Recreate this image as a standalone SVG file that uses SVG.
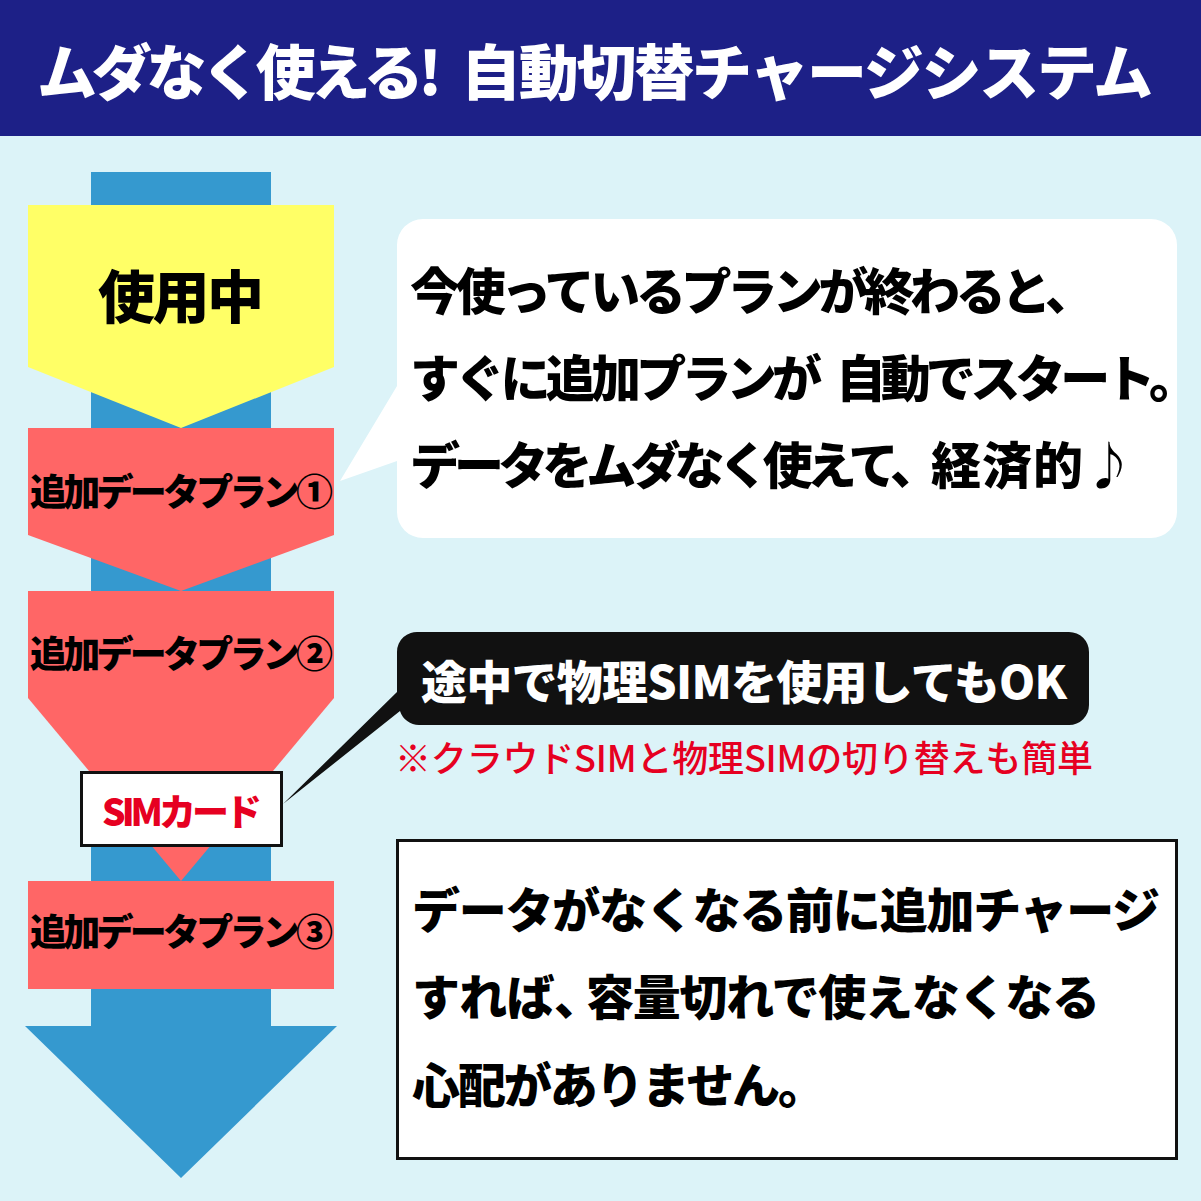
<svg xmlns="http://www.w3.org/2000/svg" width="1201" height="1201" viewBox="0 0 1201 1201">
<style>
text{font-family:"Noto Sans CJK JP","Noto Sans",sans-serif;font-weight:900}
.plan{font-size:37px;fill:#000}
.big{font-size:50px;fill:#000}
.b2{font-size:48px;fill:#000}
</style>
<rect width="1201" height="1201" fill="#dcf3f8"/>
<g id="header"><rect width="1201" height="136" fill="#1d2087"/>
<text x="37" y="95" font-size="60" fill="#fff" textLength="405">ムダなく使える!</text>
<text x="461" y="95" font-size="60" fill="#fff" textLength="692">自動切替チャージシステム</text></g>
<g id="flow-arrow"><path d="M91 172H271V1026H337L181 1178L25 1026H91Z" fill="#3599cf"/></g>
<g id="in-use"><path d="M28 205H334V367L181 428L28 367Z" fill="#ffff66"/>
<text x="98" y="318" font-size="57" textLength="166">使用中</text></g>
<g id="plan-1"><path d="M28 428H334V535L181 591L28 535Z" fill="#ff6666"/>
<text class="plan" x="30" y="506" textLength="303">追加データプラン①</text></g>
<g id="plan-2"><path d="M28 591H334V698L181 881L28 698Z" fill="#ff6666"/>
<text class="plan" x="30" y="668" textLength="303">追加データプラン②</text></g>
<g id="plan-3"><rect x="28" y="881" width="306" height="108" fill="#ff6666"/>
<text class="plan" x="30" y="946" textLength="303">追加データプラン③</text></g>
<g id="sim-card"><rect x="81.5" y="772.5" width="200" height="73" fill="#fff" stroke="#111" stroke-width="3"/>
<text x="102" y="826" font-size="37" fill="#e60021" textLength="160">SIMカード</text></g>
<g id="note-1"><path d="M397 245a26 26 0 0 1 26-26H1151a26 26 0 0 1 26 26V512a26 26 0 0 1-26 26H423a26 26 0 0 1-26-26V461L340 481L397 386Z" fill="#fff"/>
<text class="big" x="410" y="310" textLength="685">今使っているプランが終わると、</text>
<text class="big" x="410" y="397" textLength="412">すぐに追加プランが</text>
<text class="big" x="836" y="397" textLength="363">自動でスタート。</text>
<text class="big" x="410" y="484" textLength="530">データをムダなく使えて、</text>
<text class="big" x="931" y="484" textLength="152">経済的</text>
<text class="big" x="1084" y="484">♪</text></g>
<g id="note-2"><path d="M419 632H1069a20 20 0 0 1 20 20V705a20 20 0 0 1-20 20H419a20 20 0 0 1-19-14L283 804L397 692V652a20 20 0 0 1 22-20Z" fill="#111"/>
<text x="421" y="699" font-size="46" fill="#fff" textLength="646">途中で物理SIMを使用してもOK</text></g>
<g id="note-2-sub"><text x="395" y="772" font-size="36" fill="#e60021" style="font-weight:500" textLength="698">※クラウドSIMと物理SIMの切り替えも簡単</text></g>
<g id="note-3"><rect x="397.5" y="840.5" width="779" height="318" fill="#fff" stroke="#111" stroke-width="3"/>
<text class="b2" x="412" y="928" textLength="748">データがなくなる前に追加チャージ</text>
<text class="b2" x="412" y="1015" textLength="190">すれば、</text>
<text class="b2" x="586" y="1015" textLength="514">容量切れで使えなくなる</text>
<text class="b2" x="412" y="1103" textLength="414">心配がありません。</text></g>
<g id="connectors"/>
</svg>
